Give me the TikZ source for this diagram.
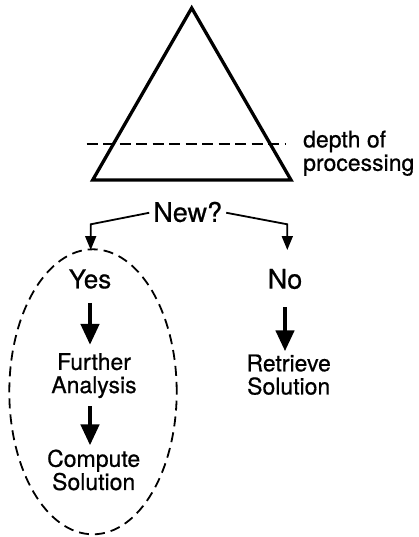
\documentclass[tikz,border=0pt]{standalone}
\usepackage{fontspec}
\setmainfont[FakeBold=0.6,AutoFakeBold=0.6]{TeX Gyre Heros}
\usetikzlibrary{arrows.meta,shapes.geometric}
\begin{document}
\begin{tikzpicture}[x=1pt,y=-1pt,
  lbl/.style={inner sep=0pt, align=center, font=\fontsize{23}{23.2}\selectfont\bfseries},
  big/.style={inner sep=0pt, font=\fontsize{26}{28}\selectfont\bfseries},
  thinarrow/.style={line width=1.8pt, -{Triangle[length=14pt,width=11pt]}},
  bigarrow/.style={line width=4.5pt, -{Triangle[length=21pt,width=18pt]}},
  grpdash/.style={line width=1.8pt, dash pattern=on 10pt off 6pt}]
\useasboundingbox (0,0) rectangle (419,537);
% triangle
\coordinate (apex) at (191.7,8);
\coordinate (bl) at (92.7,180);
\coordinate (br) at (291,180);
\draw[line width=3.3pt, line join=miter] (apex) -- (bl) -- (br) -- cycle;
% depth line
\coordinate (dl) at (86.7,144);
\coordinate (dr) at (285,144);
\draw[line width=1.6pt, dash pattern=on 11pt off 5.5pt] (dl) -- (dr);
\node[lbl, align=left, anchor=west, font=\fontsize{23}{23.4}\selectfont\bfseries] (depth) at (303,153.2) {depth of\\processing};
% question
\node[big, font=\fontsize{27}{29}\selectfont\bfseries] (new) at (187.7,212) {New?};
\node[big] (yes) at (90,279) {Yes};
\node[big, font=\fontsize{27}{29}\selectfont\bfseries] (no) at (285,279) {No};
% group ellipse
\node[ellipse, draw, grpdash, minimum width=167.4pt, minimum height=285pt, inner sep=0pt] (grp) at (93,391.8) {};
% left branch
\node[lbl] (further) at (94,375.6) {Further\\Analysis};
\node[lbl] (compute) at (93.7,470) {Compute\\Solution};
\node[lbl] (retrieve) at (288.7,374.7) {Retrieve\\Solution};
% connectors from New?
\coordinate (lb) at (90.7,224.3);
\coordinate (rb) at (287.3,224.3);
\coordinate (lt) at (90.7,250);
\coordinate (rt) at (287.3,250);
\draw[thinarrow, shorten <=4pt] (new.west) -- (lb) -- (lt);
\draw[thinarrow, shorten <=4pt] (new.east) -- (rb) -- (rt);
% thick arrows
\draw[bigarrow, shorten <=14pt, shorten >=8pt] (yes.south) -- (yes.south |- further.north);
\draw[bigarrow, shorten <=8pt, shorten >=4pt] (yes.south |- further.south) -- (yes.south |- compute.north);
\draw[bigarrow, shorten <=18pt, shorten >=3pt] (no.south) -- (no.south |- retrieve.north);
\end{tikzpicture}
\end{document}
